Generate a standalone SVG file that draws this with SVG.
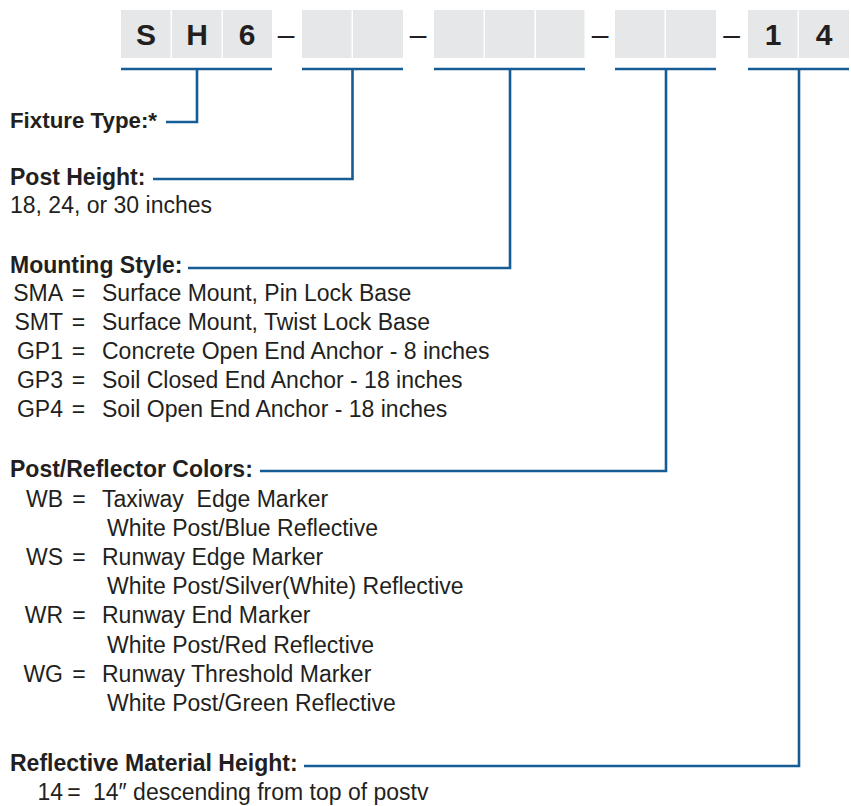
<svg xmlns="http://www.w3.org/2000/svg" width="851" height="806" viewBox="0 0 851 806">
<style>
.box{fill:#e6e7e8}
.code{font-family:"Liberation Sans",Arial,sans-serif;font-size:30px;font-weight:bold;fill:#231f20;text-anchor:middle}
.dash{font-family:"Liberation Sans",Arial,sans-serif;font-size:30px;fill:#231f20;text-anchor:middle}
.ul{stroke:#165d96;stroke-width:2.6;fill:none}
.conn{stroke:#165d96;stroke-width:2.6;fill:none}
.h{font-family:"Liberation Sans",Arial,sans-serif;font-size:23px;font-weight:bold;fill:#231f20}
.t{font-family:"Liberation Sans",Arial,sans-serif;font-size:23px;fill:#231f20}
.k{text-anchor:end}
.eq{text-anchor:middle}
</style>
<g id="code-boxes">
<rect class="box" x="121" y="10" width="49.5" height="48"/>
<rect class="box" x="172" y="10" width="49.5" height="48"/>
<rect class="box" x="223" y="10" width="49" height="48"/>
<rect class="box" x="302" y="10" width="49.5" height="48"/>
<rect class="box" x="353" y="10" width="50" height="48"/>
<rect class="box" x="434" y="10" width="49.5" height="48"/>
<rect class="box" x="485" y="10" width="49.5" height="48"/>
<rect class="box" x="536" y="10" width="48.5" height="48"/>
<rect class="box" x="615" y="10" width="49.5" height="48"/>
<rect class="box" x="666" y="10" width="50" height="48"/>
<rect class="box" x="748" y="10" width="49.5" height="48"/>
<rect class="box" x="799" y="10" width="50" height="48"/>
<text class="code" x="146" y="45">S</text>
<text class="code" x="197" y="45">H</text>
<text class="code" x="247" y="45">6</text>
<text class="code" x="773" y="45">1</text>
<text class="code" x="824" y="45">4</text>
<text class="dash" x="286" y="45">–</text>
<text class="dash" x="418" y="45">–</text>
<text class="dash" x="600" y="45">–</text>
<text class="dash" x="731.5" y="45">–</text>
<path class="ul" d="M121 69H272M302 69H403M434 69H585M615 69H716M748 69H849"/>
</g>
<g id="connectors">
<path class="conn" d="M197 69V122H166"/>
<path class="conn" d="M352.5 69V179H153"/>
<path class="conn" d="M510 69V268H188"/>
<path class="conn" d="M666 69V471H260"/>
<path class="conn" d="M799 69V766H304"/>
</g>
<g id="fixture-type">
<text class="h" x="10" y="128" style="font-size:22.3px">Fixture Type:*</text>
</g>
<g id="post-height">
<text class="h" x="10" y="185">Post Height:</text>
<text class="t" x="10" y="213">18, 24, or 30 inches</text>
</g>
<g id="mounting-style">
<text class="h" x="10" y="273">Mounting Style:</text>
<text class="t k" x="63" y="301">SMA</text><text class="t eq" x="78.5" y="301">=</text><text class="t" x="102" y="301">Surface Mount, Pin Lock Base</text>
<text class="t k" x="63" y="330">SMT</text><text class="t eq" x="78.5" y="330">=</text><text class="t" x="102" y="330">Surface Mount, Twist Lock Base</text>
<text class="t k" x="63" y="359">GP1</text><text class="t eq" x="78.5" y="359">=</text><text class="t" x="102" y="359">Concrete Open End Anchor - 8 inches</text>
<text class="t k" x="63" y="388">GP3</text><text class="t eq" x="78.5" y="388">=</text><text class="t" x="102" y="388">Soil Closed End Anchor - 18 inches</text>
<text class="t k" x="63" y="417">GP4</text><text class="t eq" x="78.5" y="417">=</text><text class="t" x="102" y="417">Soil Open End Anchor - 18 inches</text>
</g>
<g id="post-reflector-colors">
<text class="h" x="10" y="477">Post/Reflector Colors:</text>
<text class="t k" x="63" y="507">WB</text><text class="t eq" x="79" y="507">=</text><text class="t" x="102" y="507" xml:space="preserve">Taxiway  Edge Marker</text>
<text class="t" x="107" y="536">White Post/Blue Reflective</text>
<text class="t k" x="63" y="565">WS</text><text class="t eq" x="79" y="565">=</text><text class="t" x="102" y="565">Runway Edge Marker</text>
<text class="t" x="107" y="594">White Post/Silver(White) Reflective</text>
<text class="t k" x="63" y="623">WR</text><text class="t eq" x="79" y="623">=</text><text class="t" x="102" y="623">Runway End Marker</text>
<text class="t" x="107" y="653">White Post/Red Reflective</text>
<text class="t k" x="63" y="682">WG</text><text class="t eq" x="79" y="682">=</text><text class="t" x="102" y="682">Runway Threshold Marker</text>
<text class="t" x="107" y="711">White Post/Green Reflective</text>
</g>
<g id="reflective-height">
<text class="h" x="10" y="771">Reflective Material Height:</text>
<text class="t k" x="63" y="800">14</text><text class="t eq" x="74" y="800">=</text><text class="t" x="93" y="800">14″ descending from top of postv</text>
</g>
</svg>
